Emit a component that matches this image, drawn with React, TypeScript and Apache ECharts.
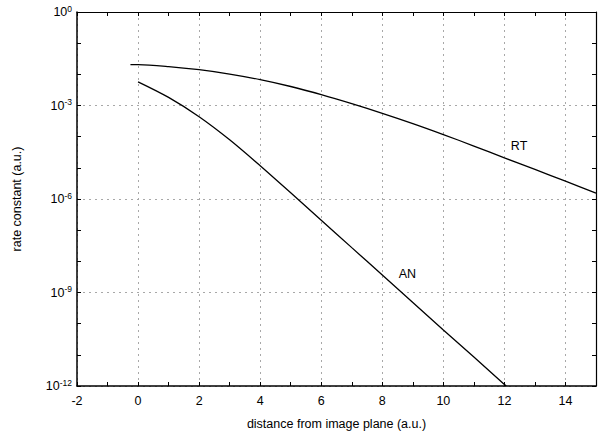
import React, { useEffect, useRef } from "react";
import * as echarts from "echarts";

const rtX = [-0.25, 0, 1, 2, 3, 4, 5, 6, 7, 8, 9, 10, 11, 12, 13, 14, 15];
const rtY = [2.04e-2, 2.04e-2, 1.78e-2, 1.41e-2, 1.02e-2, 6.76e-3, 4.07e-3, 2.24e-3, 1.15e-3, 5.62e-4, 2.63e-4, 1.17e-4, 5.01e-5, 2.09e-5, 8.91e-6, 3.72e-6, 1.55e-6];
const anX = [0, 1, 2, 3, 4, 5, 6, 7, 8, 9, 10, 11, 12, 12.06];
const anY = [5.75e-3, 1.82e-3, 4.37e-4, 7.94e-5, 1.17e-5, 1.58e-6, 2.09e-7, 2.75e-8, 3.63e-9, 4.79e-10, 6.31e-11, 8.51e-12, 1.12e-12, 1e-12];
const labels = [
  { name: "RT", x: 12.48, y: 5e-5 },
  { name: "AN", x: 8.82, y: 4.0e-9 },
];
const xTitle = "distance from image plane (a.u.)";
const yTitle = "rate constant (a.u.)";

export default function App() {
  const ref = useRef<HTMLDivElement>(null);
  useEffect(() => {
    if (!ref.current) return;
    const chart = echarts.init(ref.current, null, { renderer: "svg" });
    const font = "Liberation Sans, Arial, sans-serif";
    const fs = 12.5;
    const grid = { color: "#a8a8a8", type: [2, 4] as any, width: 1 };
    const labelStyle = { show: true, position: "inside", formatter: "{b}", color: "#000", fontSize: fs, fontFamily: font };
    chart.setOption({
      animation: false,
      backgroundColor: "#fff",
      textStyle: { fontFamily: font, color: "#000" },
      grid: { left: 77, right: 9, top: 12, bottom: 50, containLabel: false },
      xAxis: [
        {
          type: "value", min: -2, max: 15, interval: 2, position: "bottom",
          name: xTitle, nameLocation: "middle", nameGap: 31,
          nameTextStyle: { fontSize: fs, color: "#000", fontFamily: font },
          axisLine: { show: true, onZero: false, lineStyle: { color: "#000", width: 1.5 } },
          axisTick: { show: true, inside: true, length: 4, lineStyle: { color: "#000" } },
          minorTick: { show: true, splitNumber: 2, length: 4, lineStyle: { color: "#000" } },
          axisLabel: { showMaxLabel: false, fontSize: fs, color: "#000", margin: 8, fontFamily: font },
          splitLine: { show: true, lineStyle: grid },
        },
        {
          type: "value", min: -2, max: 15, interval: 1, position: "top",
          axisLine: { show: true, onZero: false, lineStyle: { color: "#000", width: 1.2 } },
          axisTick: { show: true, inside: true, length: 4, lineStyle: { color: "#000" } },
          axisLabel: { show: false },
          splitLine: { show: false },
        },
      ],
      yAxis: [
        {
          type: "log", logBase: 10, min: 1e-12, max: 1, interval: 1, position: "left",
          axisLine: { show: true, onZero: false, lineStyle: { color: "#000", width: 1.5 } },
          axisTick: { show: true, inside: true, length: 4, lineStyle: { color: "#000" } },
          axisLabel: { show: false },
          splitLine: { show: false },
        },
        {
          type: "log", logBase: 10, min: 1e-12, max: 1, interval: 3, position: "left",
          name: yTitle, nameLocation: "middle", nameGap: 54,
          nameTextStyle: { fontSize: fs, color: "#000", fontFamily: font },
          axisLine: { show: false, onZero: false },
          axisTick: { show: false },
          axisLabel: {
            margin: 5,
            formatter: (v: number) => `{b|10}{s|${Math.round(Math.log10(v))}}`,
            rich: {
              b: { fontSize: fs, color: "#000", fontFamily: font },
              s: { fontSize: 8.5, color: "#000", fontFamily: font, verticalAlign: "top", padding: [0, 0, 7, 0] },
            },
          },
          splitLine: { show: true, lineStyle: grid },
        },
        {
          type: "log", logBase: 10, min: 1e-12, max: 1, interval: 1, position: "right",
          axisLine: { show: true, onZero: false, lineStyle: { color: "#000", width: 1.2 } },
          axisTick: { show: true, inside: true, length: 4, lineStyle: { color: "#000" } },
          axisLabel: { show: false },
          splitLine: { show: false },
        },
      ],
      series: [
        {
          name: "RT", type: "line", xAxisIndex: 0, yAxisIndex: 0,
          data: rtX.map((x, i) => [x, rtY[i]]),
          smooth: 0.3, showSymbol: false, symbol: "none",
          lineStyle: { color: "#000", width: 1.3 },
          markPoint: {
            symbol: "circle", symbolSize: 1, itemStyle: { color: "rgba(0,0,0,0)" },
            label: labelStyle,
            data: [{ name: labels[0].name, coord: [labels[0].x, labels[0].y] }],
          },
        },
        {
          name: "AN", type: "line", xAxisIndex: 0, yAxisIndex: 0,
          data: anX.map((x, i) => [x, anY[i]]),
          smooth: 0.3, showSymbol: false, symbol: "none",
          lineStyle: { color: "#000", width: 1.3 },
          markPoint: {
            symbol: "circle", symbolSize: 1, itemStyle: { color: "rgba(0,0,0,0)" },
            label: labelStyle,
            data: [{ name: labels[1].name, coord: [labels[1].x, labels[1].y] }],
          },
        },
      ],
    });
    return () => chart.dispose();
  }, []);
  return <div ref={ref} style={{ width: 605, height: 436, position: "absolute", left: 0, top: 0 }} />;
}
